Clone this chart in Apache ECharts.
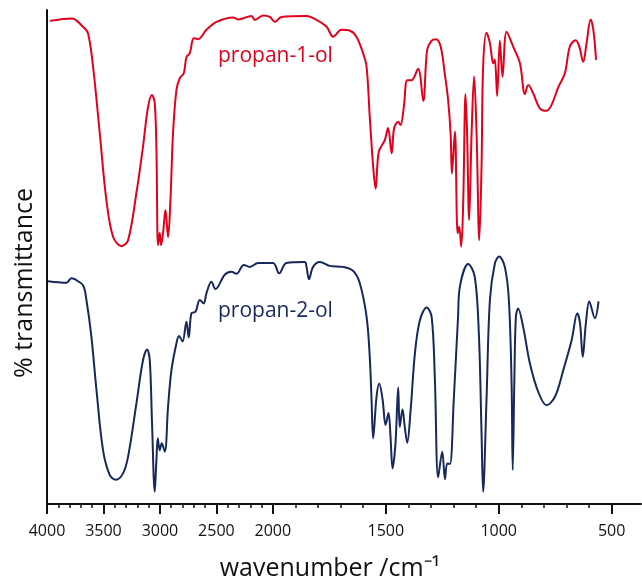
<!DOCTYPE html>
<html><head><meta charset="utf-8">
<script src="https://cdn.jsdelivr.net/npm/echarts@6/dist/echarts.min.js"></script>
<style>html,body{margin:0;padding:0;background:#fff}#c{width:642px;height:579px}</style>
</head><body><div id="c"></div>
<script>
// propan-1-ol (red, upper trace): wavenumber / cm-1 and transmittance (arbitrary %, stacked)
const wn1 = [3975,3780,3681,3637,3592,3533,3474,3415,3341,3282,3208,3150,3105,3070,3046,3031,3017,3002,2990,2972,2951,2928,2907,2884,2854,2824,2789,2765,2736,2700,2662,2588,2499,2352,2308,2189,2160,2086,2027,1991,1962,1851,1807,1762,1733,1696,1658,1630,1600,1585,1571,1556,1545,1531,1504,1490,1474,1463,1445,1435,1420,1405,1386,1357,1334,1317,1297,1278,1257,1238,1224,1213,1207,1194,1182,1175,1166,1157,1147,1140,1131,1120,1109,1098,1086,1076,1069,1054,1039,1024,1017,1007,995,983,965,936,906,884,869,847,818,788,766,736,707,685,659,643,626,611,593,581,569];
const t1 = [97.8,98.3,96.6,95.3,88.5,75.1,61.5,54.1,52.2,53.4,63.0,72.3,80.4,82.8,81.2,71.7,52.4,54.9,52.4,54.9,59.5,54.0,61.5,75.1,83.8,86.2,87.2,90.5,91.2,94.3,94.1,96.0,97.6,98.5,98.1,98.8,98.0,98.9,98.6,97.6,98.6,98.8,98.0,96.6,94.6,96.0,95.8,94.6,91.2,88.5,78.4,68.3,63.8,71.3,73.7,76.1,71.0,76.1,77.4,76.7,80.4,85.8,85.8,88.1,81.6,91.9,93.8,94.1,92.6,86.8,81.8,75.0,66.9,75.4,54.8,56.1,52.1,61.5,83.0,75.1,57.5,75.1,86.6,75.1,53.4,68.3,88.5,95.4,93.3,89.2,90.0,82.6,93.8,86.5,95.6,92.6,89.2,83.0,84.8,83.1,80.1,79.6,80.8,84.4,87.2,92.6,93.9,92.6,89.5,93.3,98.1,96.0,89.9];
// propan-2-ol (navy, lower trace)
const wn2 = [3991,3828,3784,3755,3681,3651,3607,3562,3504,3445,3391,3327,3282,3208,3150,3114,3090,3070,3046,3031,3019,3002,2984,2957,2928,2898,2854,2831,2800,2765,2745,2721,2685,2647,2612,2588,2544,2508,2426,2366,2322,2257,2204,2131,1999,1972,1940,1859,1851,1840,1822,1792,1748,1689,1645,1615,1585,1571,1563,1556,1541,1529,1514,1501,1488,1479,1470,1457,1445,1438,1426,1416,1405,1390,1371,1349,1319,1297,1283,1268,1250,1238,1228,1216,1199,1180,1172,1135,1106,1088,1076,1069,1054,1039,1017,998,973,955,943,938,931,924,914,892,862,825,788,751,714,677,652,640,628,614,599,574,558];
const t2 = [45.1,44.8,45.7,45.5,44.3,41.3,33.9,23.1,10.9,5.9,4.9,6.2,9.6,20.4,29.1,31.3,29.1,16.4,2.5,8.9,13.3,10.9,12.3,10.6,19.7,27.1,32.5,34.0,32.9,36.9,33.7,38.6,38.9,41.3,40.6,42.7,45.0,43.5,46.4,47.0,46.6,48.4,48.0,48.8,48.8,46.7,48.8,49.0,48.0,45.5,48.0,49.0,48.2,48.0,47.2,44.7,37.9,29.8,21.1,13.3,21.7,24.4,21.1,16.0,18.4,13.6,7.2,12.3,23.6,15.6,19.2,15.6,12.4,19.0,30.5,37.2,39.8,37.9,25.8,5.4,10.6,5.0,8.2,8.1,21.1,37.9,44.0,48.6,46.0,34.6,14.3,2.5,21.1,41.3,48.7,50.1,48.0,41.3,24.4,6.9,24.4,37.9,39.6,35.9,28.5,22.7,20.0,21.7,27.1,33.2,38.6,36.6,29.8,36.6,41.0,37.6,41.0];
const seriesNames = ['propan-1-ol', 'propan-2-ol'];
const majorTicks = [4000, 3500, 3000, 2500, 2000, 1500, 1000, 500];
const minorTicks = [3900,3800,3700,3600,3400,3300,3200,3100,2900,2800,2700,2600,2400,2300,2200,2100,1900,1800,1700,1600,1400,1300,1200,1100,900,800,700,600];
const xTitle = 'wavenumber /cm\u207B\u00B9';
const yTitle = '% transmittance';

// IR axis: scale doubles below 2000 cm-1 (piecewise-linear axis)
function toU(w) { return w >= 2000 ? (4000 - w) / 2 : 3000 - w; }
function toW(u) { return u <= 1000 ? 4000 - 2 * u : 3000 - u; }

const d1 = wn1.map((w, i) => [toU(w), t1[i]]);
const d2 = wn2.map((w, i) => [toU(w), t2[i]]);
const RED = '#e2001a', NAVY = '#17285c';
const UMAX = 2630;

const chart = echarts.init(document.getElementById('c'), null, { renderer: 'canvas' });
chart.setOption({
  animation: false,
  backgroundColor: '#ffffff',
  grid: { left: 47, right: 1, top: 10, bottom: 75, containLabel: false },
  xAxis: [{
    type: 'value', min: 0, max: UMAX, position: 'bottom',
    axisLine: { show: true, onZero: false, lineStyle: { color: '#111', width: 2 } },
    axisTick: { show: true, customValues: majorTicks.map(toU), length: 10, lineStyle: { color: '#111', width: 2 } },
    axisLabel: { show: true, customValues: majorTicks.map(toU), formatter: v => String(Math.round(toW(v))), margin: 19,
      fontFamily: 'Open Sans', fontSize: 16, color: '#111' },
    splitLine: { show: false }
  }, {
    type: 'value', min: 0, max: UMAX, position: 'bottom', gridIndex: 0,
    axisLine: { show: false, onZero: false },
    axisTick: { show: true, customValues: minorTicks.map(toU), length: 4, lineStyle: { color: '#111', width: 1.5 } },
    axisLabel: { show: false },
    splitLine: { show: false }
  }],
  yAxis: {
    type: 'value', min: 0, max: 100,
    axisLine: { show: true, onZero: false, lineStyle: { color: '#111', width: 2 } },
    axisTick: { show: false }, axisLabel: { show: false }, splitLine: { show: false }
  },
  series: [{
    name: seriesNames[0], type: 'line', data: d1, showSymbol: false, smooth: 0.35,
    lineStyle: { color: RED, width: 2 }, itemStyle: { color: RED }
  }, {
    name: seriesNames[1], type: 'line', data: d2, showSymbol: false, smooth: 0.35,
    lineStyle: { color: NAVY, width: 2 }, itemStyle: { color: NAVY }
  }],
  graphic: [
    { type: 'text', left: 218, top: 46, style: { text: seriesNames[0], fill: RED, font: '21px "Open Sans"' } },
    { type: 'text', left: 218, top: 301, style: { text: seriesNames[1], fill: NAVY, font: '21px "Open Sans"' } },
    { type: 'text', x: 330, y: 569, style: { text: xTitle, fill: '#111', font: '25px "Open Sans"', align: 'center', verticalAlign: 'middle' } },
    { type: 'text', x: 25, y: 283, rotation: Math.PI / 2, style: { text: yTitle, fill: '#111', font: '25px "Open Sans"', align: 'center', verticalAlign: 'middle' } }
  ]
});
</script></body></html>
